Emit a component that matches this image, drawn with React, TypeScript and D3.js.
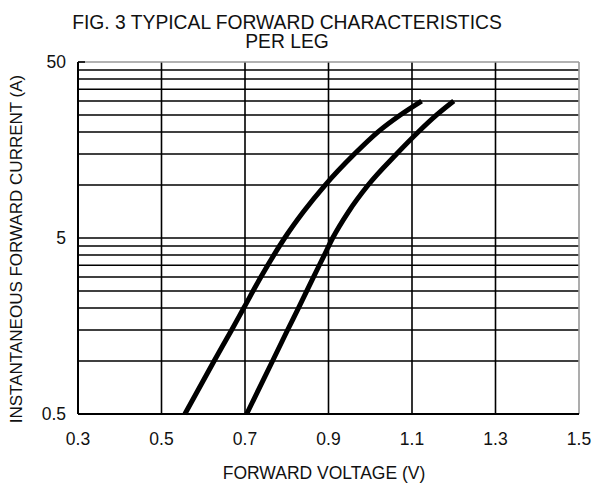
import * as d3 from 'd3';

// forward voltage (V) vs instantaneous current (A)
const leftVoltage = [0.556, 0.626, 0.668, 0.697, 0.738, 0.795, 0.839, 0.892, 0.962, 1.018, 1.072, 1.123];
const leftCurrent = [0.5, 1, 1.5, 2, 3, 5, 7, 10, 15, 20, 25, 30];
const rightVoltage = [0.704, 0.766, 0.802, 0.828, 0.864, 0.89, 0.91, 0.947, 0.995, 1.063, 1.115, 1.159, 1.2];
const rightCurrent = [0.5, 1, 1.5, 2, 3, 4, 5, 7, 10, 15, 20, 25, 30];

const xTicks = [0.3, 0.5, 0.7, 0.9, 1.1, 1.3, 1.5];
const yTicks = [0.5, 5, 50];
const yGrid = [
  1, 1.5, 2, 2.5, 3, 3.5, 4, 4.5, 5,
  10, 15, 20, 25, 30, 35, 40, 45,
];

const W = 593;
const H = 485;
const left = 78;
const right = 579;
const top = 62;
const bottom = 414;
const font = "'Liberation Sans', Arial, sans-serif";

export default function App() {
  const x = d3.scaleLinear().domain([0.3, 1.5]).range([left, right]);
  const y = d3.scaleLog().domain([0.5, 50]).range([bottom, top]);

  const line = d3
    .line<[number, number]>()
    .x((d) => x(d[0]))
    .y((d) => y(d[1]))
    .curve(d3.curveMonotoneX);

  const leftPts = leftVoltage.map((v, i) => [v, leftCurrent[i]] as [number, number]);
  const rightPts = rightVoltage.map((v, i) => [v, rightCurrent[i]] as [number, number]);

  return (
    <svg
      width={W}
      height={H}
      style={{ position: 'absolute', left: 0, top: 0, background: '#fff' }}
      fontFamily={font}
    >
      <rect width={W} height={H} fill="#fff" />

      {/* horizontal grid */}
      {yGrid.map((v) => (
        <line key={'h' + v} x1={left} x2={right} y1={y(v)} y2={y(v)} stroke="#000" strokeWidth={1.6} />
      ))}
      {/* vertical grid */}
      {xTicks.slice(1, -1).map((v) => (
        <line key={'v' + v} x1={x(v)} x2={x(v)} y1={top} y2={bottom} stroke="#000" strokeWidth={1.6} />
      ))}

      {/* frame */}
      <line x1={left} x2={right} y1={top} y2={top} stroke="#999" strokeWidth={1.4} />
      <line x1={right} x2={right} y1={top} y2={bottom} stroke="#999" strokeWidth={1.6} />
      <line x1={left} x2={right} y1={bottom} y2={bottom} stroke="#000" strokeWidth={2} />
      <line x1={left} x2={left} y1={top} y2={bottom} stroke="#000" strokeWidth={2} />
      <line x1={left} x2={left + 7} y1={top} y2={top} stroke="#000" strokeWidth={1.6} />

      {/* curves */}
      <path d={line(leftPts) ?? ''} fill="none" stroke="#000" strokeWidth={5} />
      <path d={line(rightPts) ?? ''} fill="none" stroke="#000" strokeWidth={5} />

      {/* tick labels */}
      {xTicks.map((v) => (
        <text key={'xt' + v} x={x(v)} y={445} textAnchor="middle" fontSize={17.5} fill="#111">
          {v.toFixed(1)}
        </text>
      ))}
      {yTicks.map((v) => (
        <text key={'yt' + v} x={66} y={y(v) + 6} textAnchor="end" fontSize={17.5} fill="#111">
          {String(v)}
        </text>
      ))}

      {/* titles */}
      <text x={287} y={29} textAnchor="middle" fontSize={19.3} fill="#111">
        FIG. 3 TYPICAL FORWARD CHARACTERISTICS
      </text>
      <text x={287} y={48} textAnchor="middle" fontSize={19.3} fill="#111">
        PER LEG
      </text>
      <text x={324} y={479} textAnchor="middle" fontSize={17.5} fill="#111">
        FORWARD VOLTAGE (V)
      </text>
      <text
        transform={`translate(22, 249) rotate(-90)`}
        textAnchor="middle"
        fontSize={17}
        fill="#111"
      >
        INSTANTANEOUS FORWARD CURRENT (A)
      </text>
    </svg>
  );
}
